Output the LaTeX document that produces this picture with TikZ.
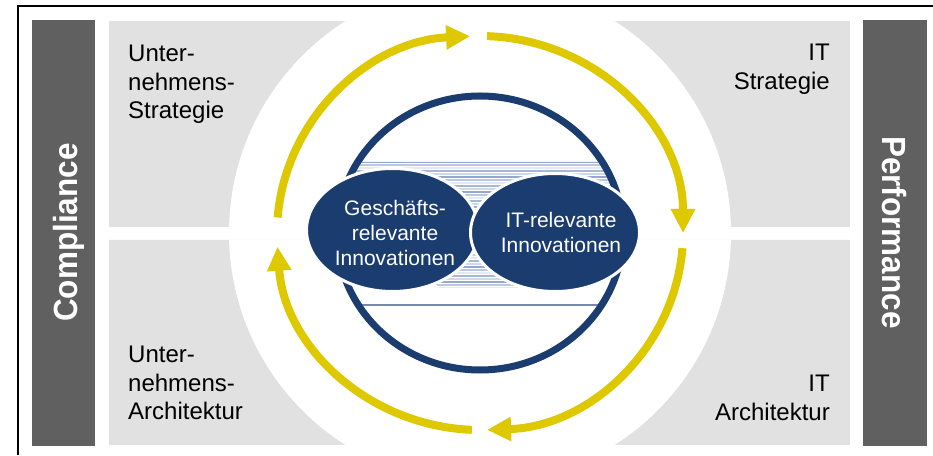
\documentclass[tikz,border=0pt]{standalone}
\usepackage{fontspec}
\setmainfont{Liberation Sans}
\usepackage{graphicx}
\usetikzlibrary{arrows.meta,shapes.geometric}

\definecolor{ringyellow}{RGB}{222,200,0}
\definecolor{navy}{RGB}{26,60,110}
\definecolor{bargray}{RGB}{96,96,96}
\definecolor{panelgray}{RGB}{225,225,225}
\definecolor{stripeblue}{RGB}{120,146,192}
\definecolor{lineblue}{RGB}{120,136,172}

\begin{document}
\begin{tikzpicture}[
        x=1pt, y=1pt,
        bartext/.style = {text=white, inner sep=0pt, font=\fontsize{33.5}{40}\selectfont\bfseries}, % Randbalken
        paneltext/.style = {inner sep=0pt, font=\fontsize{24}{28.5}\selectfont},
        cycle/.style = {ringyellow, line width=8pt, -{Triangle[length=24pt, width=23pt]}},
        innov/.style = {ellipse, fill=navy, draw=white, line width=3pt, inner sep=0pt}, % Innovationen
        innovtext/.style = {text=white, align=center, inner sep=0pt, font=\fontsize{21}{25}\selectfont},
    ]
    \useasboundingbox (0,0) rectangle (933,455);
    \coordinate (mid) at (480,222);

    % Quadranten
    \begin{scope}
        \clip (109,228) rectangle (850,434) (109,10) rectangle (850,215);
        \fill[panelgray] (109,10) rectangle (850,434);
        \fill[white] (mid) circle (251);
    \end{scope}

    \node[paneltext, anchor=north west, align=left] (ustrat) at (128,410) {Unter-\\nehmens-\\Strategie};
    \node[paneltext, anchor=north west, align=left] (uarch) at (128,109) {Unter-\\nehmens-\\Architektur};
    \node[paneltext, anchor=north east, align=right] (itstrat) at (830,411) {IT\\Strategie};
    \node[paneltext, anchor=north east, align=right] (itarch) at (830,80) {IT\\Architektur};

    % Kreislauf
    \draw[cycle] (mid) ++(175.5:203 and 197) arc[start angle=175.5, end angle=92.8, x radius=203, y radius=197];
    \draw[cycle] (mid) ++(88:203 and 197) arc[start angle=88, end angle=0, x radius=203, y radius=197];
    \draw[cycle] (mid) ++(-4.4:203 and 197) arc[start angle=-4.4, end angle=-88, x radius=203, y radius=197];
    \draw[cycle] (mid) ++(-92.3:203 and 197) arc[start angle=-92.3, end angle=-176, x radius=203, y radius=197];

    % Streifen im Kreis
    \begin{scope}
        \clip (mid) ellipse [x radius=139.5, y radius=133.5];
        \draw[lineblue, line width=1.2pt] (330,150) -- (630,150);
        \clip (300,293) -- (660,293) -- (517,167) -- (440,167) -- cycle;
        \foreach \k in {0,...,42} {
            \pgfmathsetmacro\tone{int(mod(\k*7,5)*15+20)}
            \draw[stripeblue!\tone!white, line width=1.5pt] (330,167+3*\k) -- (630,167+3*\k);
        }
    \end{scope}
    \draw[navy, line width=7pt] (mid) ellipse [x radius=143, y radius=137];

    \node[innov, minimum width=172pt, minimum height=123pt] (gesch) at (392.5,225) {};
    \node[innov, minimum width=169pt, minimum height=118pt] (itinno) at (555,222.5) {};
    \node[innovtext] (geschtext) at (395,222.5) {Geschäfts-\\relevante\\Innovationen};
    \node[innovtext] (itinnotext) at (561,222.5) {IT-relevante\\Innovationen};

    % Randbalken
    \fill[bargray] (32,9) rectangle (95,435);
    \fill[bargray] (863,9) rectangle (927,435);
    \node[bartext, rotate=90, anchor=base] (compl) at (77,222.5) {\scalebox{0.94}[1]{Compliance}};
    \node[bartext, rotate=-90, anchor=base] (perf) at (882,222.5) {\scalebox{0.94}[1]{Performance}};

    \draw[line width=1.5pt] (18,0) -- (18,449) -- (933,449);
\end{tikzpicture}
\end{document}
